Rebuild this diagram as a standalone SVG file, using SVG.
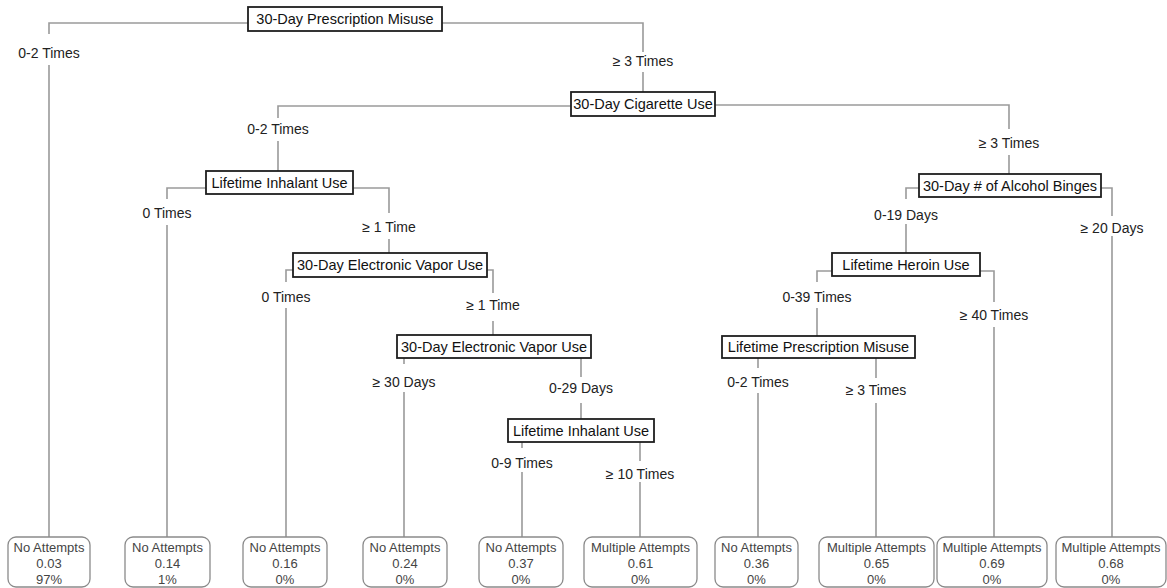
<svg xmlns="http://www.w3.org/2000/svg" width="1167" height="588" viewBox="0 0 1167 588">
  <style>
    .bg { fill: #ffffff; }
    .edge { fill: none; stroke: #9a9a9a; stroke-width: 1.6; }
    .lbl { font-family: "Liberation Sans", Arial, sans-serif; font-size: 14px; fill: #222222; text-anchor: middle; }
    .split rect { fill: #ffffff; stroke: #1e1e1e; stroke-width: 1.8; }
    .split text { font-family: "Liberation Sans", Arial, sans-serif; font-size: 14.5px; fill: #111111; text-anchor: middle; }
    .leaf rect { fill: #ffffff; stroke: #8a8a8a; stroke-width: 1.3; }
    .leaf text { font-family: "Liberation Sans", Arial, sans-serif; font-size: 13px; fill: #444444; text-anchor: middle; }
  </style>
  <rect class="bg" x="0" y="0" width="1167" height="588"/>

  <!-- branches with their split-condition labels -->
  <g id="connectors">
    <path class="edge" d="M248,23 H49 V34 M49,65 V537"/>
    <text class="lbl" x="49" y="58">0-2 Times</text>

    <path class="edge" d="M442,23 H643 V52 M643,72 V92"/>
    <text class="lbl" x="643" y="66">≥ 3 Times</text>

    <path class="edge" d="M571,106 H278 V118 M278,141 V171"/>
    <text class="lbl" x="278" y="134">0-2 Times</text>

    <path class="edge" d="M715,105 H1009 V129 M1009,155 V174"/>
    <text class="lbl" x="1009" y="148">≥ 3 Times</text>

    <path class="edge" d="M206,188 H167 V199 M167,225 V537"/>
    <text class="lbl" x="167" y="218">0 Times</text>

    <path class="edge" d="M353,188 H389 V213 M389,239 V253"/>
    <text class="lbl" x="389" y="232">≥ 1 Time</text>

    <path class="edge" d="M293,270 H286 V282 M286,308 V537"/>
    <text class="lbl" x="286" y="302">0 Times</text>

    <path class="edge" d="M487,270 H493 V293 M493,321 V335"/>
    <text class="lbl" x="493" y="310">≥ 1 Time</text>

    <path class="edge" d="M404,358 V364 M404,392 V537"/>
    <text class="lbl" x="404" y="387">≥ 30 Days</text>

    <path class="edge" d="M581,358 V377 M581,403 V419"/>
    <text class="lbl" x="581" y="393">0-29 Days</text>

    <path class="edge" d="M522,442 V448 M522,472 V537"/>
    <text class="lbl" x="522" y="468">0-9 Times</text>

    <path class="edge" d="M640,442 V461 M640,482 V537"/>
    <text class="lbl" x="640" y="479">≥ 10 Times</text>

    <path class="edge" d="M919,188 H906 V199 M906,224 V253"/>
    <text class="lbl" x="906" y="220">0-19 Days</text>

    <path class="edge" d="M1101,188 H1112 V216 M1112,236 V537"/>
    <text class="lbl" x="1112" y="233">≥ 20 Days</text>

    <path class="edge" d="M832,271 H817 V282 M817,308 V336"/>
    <text class="lbl" x="817" y="302">0-39 Times</text>

    <path class="edge" d="M980,271 H994 V302 M994,327 V537"/>
    <text class="lbl" x="994" y="320">≥ 40 Times</text>

    <path class="edge" d="M758,358 V368 M758,393 V537"/>
    <text class="lbl" x="758" y="387">0-2 Times</text>

    <path class="edge" d="M876,358 V378 M876,403 V537"/>
    <text class="lbl" x="876" y="395">≥ 3 Times</text>
  </g>

  <!-- split nodes -->
  <g id="n-root" class="split">
    <rect x="248" y="7" width="194" height="24"/>
    <text x="345" y="24">30-Day Prescription Misuse</text>
  </g>
  <g id="n-cigarette" class="split">
    <rect x="571" y="92" width="144" height="24"/>
    <text x="643" y="109">30-Day Cigarette Use</text>
  </g>
  <g id="n-inhalant1" class="split">
    <rect x="206" y="171" width="147" height="23"/>
    <text x="279.5" y="188">Lifetime Inhalant Use</text>
  </g>
  <g id="n-vapor1" class="split">
    <rect x="293" y="253" width="194" height="24"/>
    <text x="390" y="270">30-Day Electronic Vapor Use</text>
  </g>
  <g id="n-vapor2" class="split">
    <rect x="397" y="335" width="194" height="23"/>
    <text x="494" y="352">30-Day Electronic Vapor Use</text>
  </g>
  <g id="n-inhalant2" class="split">
    <rect x="508" y="419" width="146" height="23"/>
    <text x="581" y="436">Lifetime Inhalant Use</text>
  </g>
  <g id="n-alcohol" class="split">
    <rect x="919" y="174" width="182" height="23"/>
    <text x="1010" y="191">30-Day # of Alcohol Binges</text>
  </g>
  <g id="n-heroin" class="split">
    <rect x="832" y="253" width="148" height="23"/>
    <text x="906" y="270">Lifetime Heroin Use</text>
  </g>
  <g id="n-prescription" class="split">
    <rect x="722" y="336" width="193" height="22"/>
    <text x="818.5" y="352">Lifetime Prescription Misuse</text>
  </g>

  <!-- terminal leaves -->
  <g id="leaf1" class="leaf">
    <rect x="8" y="537" width="82" height="50" rx="8"/>
    <text x="49" y="552">No Attempts</text><text x="49" y="568">0.03</text><text x="49" y="584">97%</text>
  </g>
  <g id="leaf2" class="leaf">
    <rect x="125" y="537" width="85" height="50" rx="8"/>
    <text x="167.5" y="552">No Attempts</text><text x="167.5" y="568">0.14</text><text x="167.5" y="584">1%</text>
  </g>
  <g id="leaf3" class="leaf">
    <rect x="243" y="537" width="84" height="50" rx="8"/>
    <text x="285" y="552">No Attempts</text><text x="285" y="568">0.16</text><text x="285" y="584">0%</text>
  </g>
  <g id="leaf4" class="leaf">
    <rect x="363" y="537" width="84" height="50" rx="8"/>
    <text x="405" y="552">No Attempts</text><text x="405" y="568">0.24</text><text x="405" y="584">0%</text>
  </g>
  <g id="leaf5" class="leaf">
    <rect x="479" y="537" width="84" height="50" rx="8"/>
    <text x="521" y="552">No Attempts</text><text x="521" y="568">0.37</text><text x="521" y="584">0%</text>
  </g>
  <g id="leaf6" class="leaf">
    <rect x="584" y="537" width="113" height="50" rx="8"/>
    <text x="640.5" y="552">Multiple Attempts</text><text x="640.5" y="568">0.61</text><text x="640.5" y="584">0%</text>
  </g>
  <g id="leaf7" class="leaf">
    <rect x="715" y="537" width="83" height="50" rx="8"/>
    <text x="756.5" y="552">No Attempts</text><text x="756.5" y="568">0.36</text><text x="756.5" y="584">0%</text>
  </g>
  <g id="leaf8" class="leaf">
    <rect x="819" y="537" width="115" height="50" rx="8"/>
    <text x="876.5" y="552">Multiple Attempts</text><text x="876.5" y="568">0.65</text><text x="876.5" y="584">0%</text>
  </g>
  <g id="leaf9" class="leaf">
    <rect x="937" y="537" width="110" height="50" rx="8"/>
    <text x="992" y="552">Multiple Attempts</text><text x="992" y="568">0.69</text><text x="992" y="584">0%</text>
  </g>
  <g id="leaf10" class="leaf">
    <rect x="1056" y="537" width="110" height="50" rx="8"/>
    <text x="1111" y="552">Multiple Attempts</text><text x="1111" y="568">0.68</text><text x="1111" y="584">0%</text>
  </g>
</svg>
